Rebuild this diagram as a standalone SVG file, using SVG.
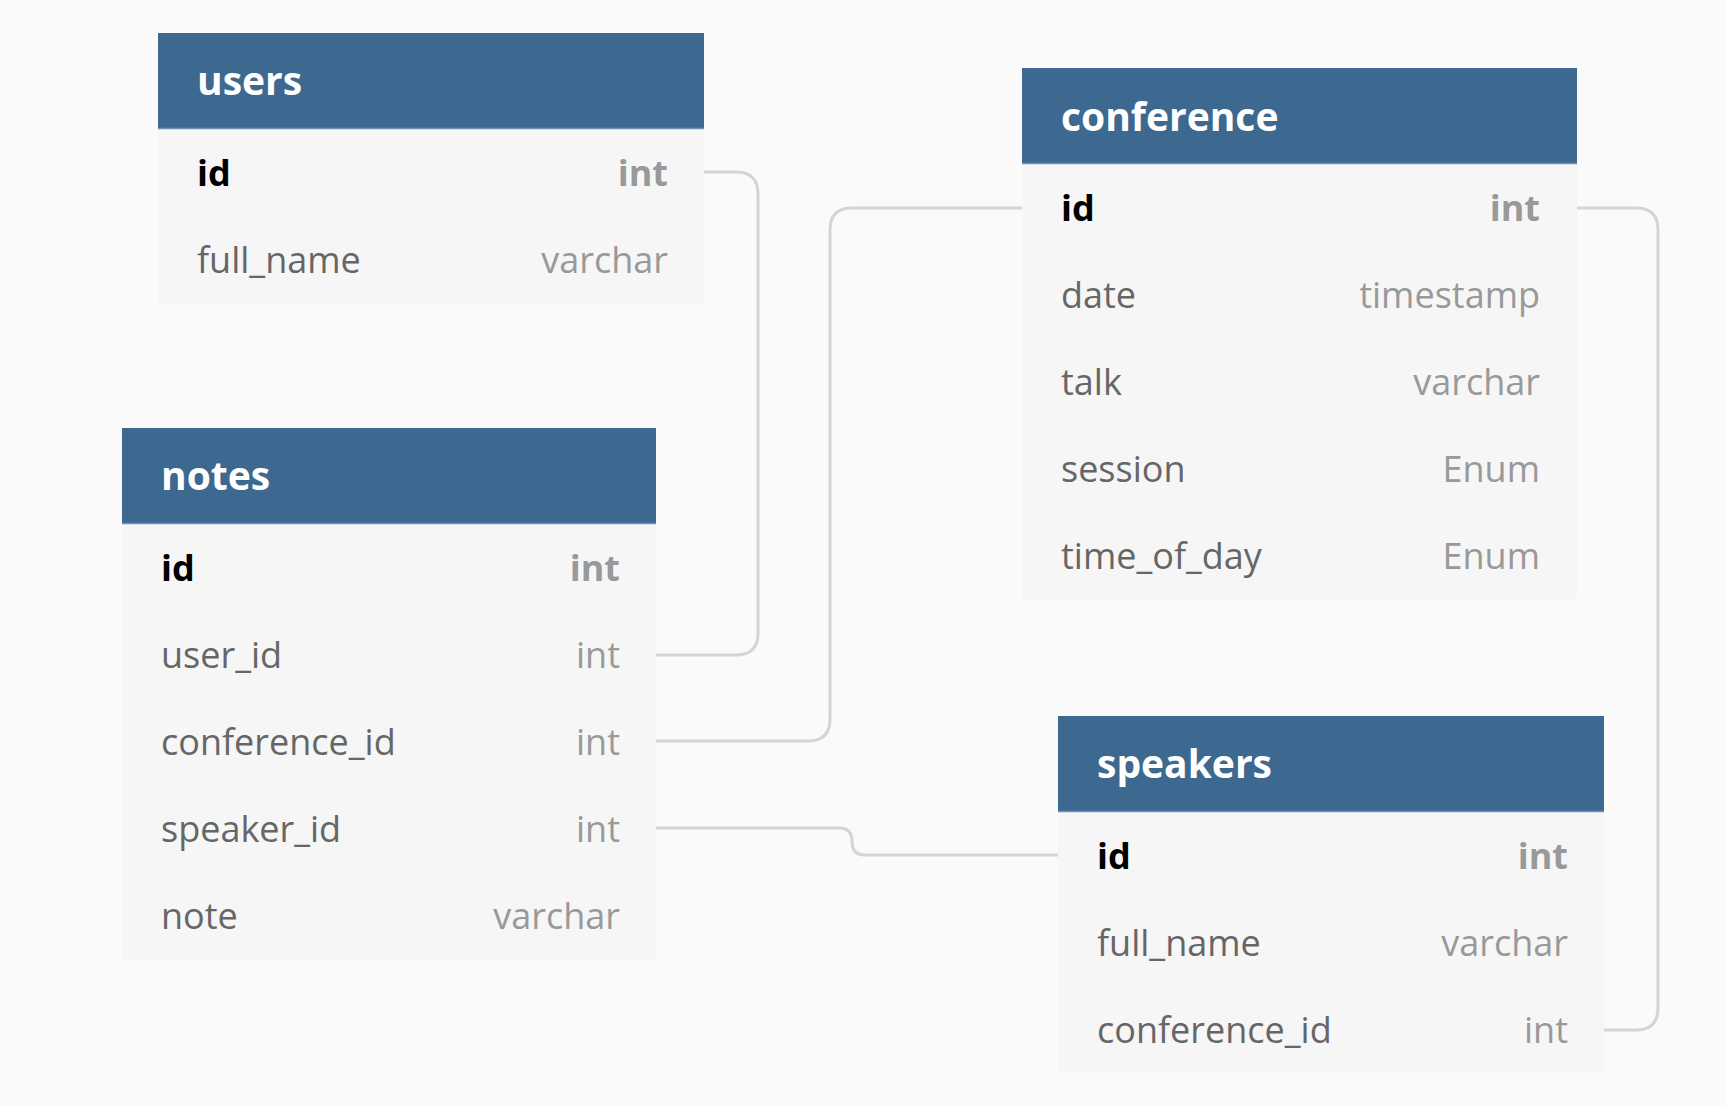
<svg xmlns="http://www.w3.org/2000/svg" width="1726" height="1106" viewBox="0 0 1726 1106">
<style>
.bg{fill:#fafafa}
.hdr{fill:#3d6890}
.hline{stroke:#6e91b2;stroke-width:1.5}
.body{fill:#f6f6f6}
.title{font-family:"Open Sans","Noto Sans",sans-serif;font-weight:700;font-size:39px;fill:#ffffff}
.fn{font-family:"Open Sans","Noto Sans",sans-serif;font-size:36px;fill:#666666}
.ft{font-family:"Open Sans","Noto Sans",sans-serif;font-size:36px;fill:#999999;text-anchor:end}
.pk{font-family:"Open Sans","Noto Sans",sans-serif;font-size:36px;font-weight:700;fill:#000000}
.pkt{font-family:"Open Sans","Noto Sans",sans-serif;font-size:36px;font-weight:700;fill:#999999;text-anchor:end}
.conn{fill:none;stroke:#d4d4d4;stroke-width:3}
</style>
<rect class="bg" x="0" y="0" width="1726" height="1106"/>
<g id="connectors">
<path class="conn" d="M704,172 H736 Q758,172 758,194 V633 Q758,655 736,655 H655"/>
<path class="conn" d="M655,741 H808 Q830,741 830,719 V230 Q830,208 852,208 H1022"/>
<path class="conn" d="M655,828 H839 Q852,828 852,841.5 Q852,855 865,855 H1058"/>
<path class="conn" d="M1577,208 H1636 Q1658,208 1658,230 V1008 Q1658,1030 1636,1030 H1604"/>
</g>
<g id="users">
<rect class="body" x="158" y="129" width="546" height="174"/>
<rect class="hdr" x="158" y="33" width="546" height="96"/>
<line class="hline" x1="158" y1="128.5" x2="704" y2="128.5"/>
<text class="title" x="197" y="95">users</text>
<text class="pk" x="197" y="186">id</text>
<text class="pkt" x="668" y="186">int</text>
<text class="fn" x="197" y="273">full_name</text>
<text class="ft" x="668" y="273">varchar</text>
</g>
<g id="conference">
<rect class="body" x="1022" y="164" width="555" height="435"/>
<rect class="hdr" x="1022" y="68" width="555" height="96"/>
<line class="hline" x1="1022" y1="163.5" x2="1577" y2="163.5"/>
<text class="title" x="1061" y="131">conference</text>
<text class="pk" x="1061" y="221">id</text>
<text class="pkt" x="1540" y="221">int</text>
<text class="fn" x="1061" y="308">date</text>
<text class="ft" x="1540" y="308">timestamp</text>
<text class="fn" x="1061" y="395">talk</text>
<text class="ft" x="1540" y="395">varchar</text>
<text class="fn" x="1061" y="482">session</text>
<text class="ft" x="1540" y="482">Enum</text>
<text class="fn" x="1061" y="569">time_of_day</text>
<text class="ft" x="1540" y="569">Enum</text>
</g>
<g id="notes">
<rect class="body" x="122" y="524" width="534" height="435"/>
<rect class="hdr" x="122" y="428" width="534" height="96"/>
<line class="hline" x1="122" y1="523.5" x2="656" y2="523.5"/>
<text class="title" x="161" y="490">notes</text>
<text class="pk" x="161" y="581">id</text>
<text class="pkt" x="620" y="581">int</text>
<text class="fn" x="161" y="668">user_id</text>
<text class="ft" x="620" y="668">int</text>
<text class="fn" x="161" y="755">conference_id</text>
<text class="ft" x="620" y="755">int</text>
<text class="fn" x="161" y="842">speaker_id</text>
<text class="ft" x="620" y="842">int</text>
<text class="fn" x="161" y="929">note</text>
<text class="ft" x="620" y="929">varchar</text>
</g>
<g id="speakers">
<rect class="body" x="1058" y="812" width="546" height="261"/>
<rect class="hdr" x="1058" y="716" width="546" height="96"/>
<line class="hline" x1="1058" y1="811.5" x2="1604" y2="811.5"/>
<text class="title" x="1097" y="778">speakers</text>
<text class="pk" x="1097" y="869">id</text>
<text class="pkt" x="1568" y="869">int</text>
<text class="fn" x="1097" y="956">full_name</text>
<text class="ft" x="1568" y="956">varchar</text>
<text class="fn" x="1097" y="1043">conference_id</text>
<text class="ft" x="1568" y="1043">int</text>
</g>
</svg>
